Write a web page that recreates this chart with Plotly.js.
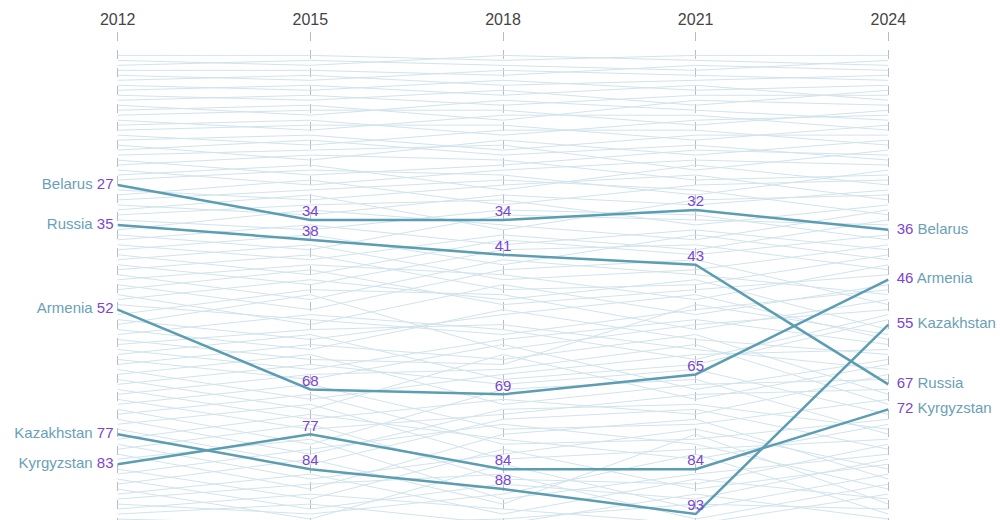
<!DOCTYPE html>
<html>
<head>
<meta charset="utf-8">
<script src="https://cdn.plot.ly/plotly-3.0.1.min.js"></script>
<style>html,body{margin:0;padding:0;background:#fff;}#chart{width:1000px;height:520px;}</style>
</head>
<body>
<div id="chart"></div>
<script>
// ---- Data ----
const years = [2012, 2015, 2018, 2021, 2024];
const yearLabels = ["2012", "2015", "2018", "2021", "2024"];

const countries = ["Belarus", "Russia", "Armenia", "Kazakhstan", "Kyrgyzstan"];
const rankBelarus    = [27, 34, 34, 32, 36];
const rankRussia     = [35, 38, 41, 43, 67];
const rankArmenia    = [52, 68, 69, 65, 46];
const rankKazakhstan = [77, 84, 88, 93, 55];
const rankKyrgyzstan = [83, 77, 84, 84, 72];

// other countries (background lines), ranks per year [2012, 2015, 2018, 2021, 2024] (estimated)
const backgroundRanks = [
  [1,1,2,1,1],[2,3,1,2,3],[3,2,3,4,2],[4,4,5,3,4],[5,6,4,5,6],
  [6,5,7,6,5],[7,8,6,8,7],[8,7,9,7,10],[9,10,8,11,8],[10,9,11,9,9],
  [11,13,10,12,14],[12,11,14,10,11],[13,12,12,15,12],[14,16,13,13,16],[15,14,17,14,13],
  [16,15,15,18,15],[17,19,16,16,19],[18,17,20,17,17],[19,22,18,21,18],[20,18,21,19,22],
  [21,20,19,24,20],[22,25,23,20,21],[23,21,22,26,25],[24,27,24,22,23],[25,23,28,23,27],
  [26,24,25,29,24],[28,30,27,25,30],[29,26,31,27,26],[30,28,26,28,33],[31,33,29,31,28],
  [32,29,36,30,29],[33,31,30,35,31],[34,36,32,33,38],[36,32,35,38,32],[37,40,33,34,35],
  [38,35,39,36,40],[39,42,37,40,34],[40,37,43,37,42],[41,45,38,41,37],[42,39,46,44,39],
  [43,47,40,39,44],[44,41,48,47,41],[45,50,42,45,49],[46,43,45,50,43],[47,52,44,42,51],
  [48,44,51,48,45],[49,55,47,53,47],[50,46,50,46,56],[51,54,57,52,48],[53,48,49,56,50],
  [54,58,53,49,58],[55,49,60,55,52],[56,60,52,58,61],[57,53,56,62,53],[58,62,63,51,57],
  [59,56,55,60,64],[60,64,58,54,59],[61,57,66,63,54],[62,66,59,68,62],[63,59,62,57,69],
  [64,70,65,61,60],[65,61,71,67,66],[66,72,61,70,63],[67,63,67,64,73],[68,74,70,73,65],
  [69,65,64,59,71],[70,76,73,69,68],[71,67,76,75,70],[72,79,68,66,77],[73,69,79,78,74],
  [74,81,72,71,76],[75,71,82,80,78],[76,83,74,72,80],[78,73,78,82,75],[79,86,81,76,84],
  [80,75,86,87,79],[81,88,77,74,86],[82,78,90,85,81],[84,90,80,88,83],[85,80,75,79,88],
  [86,92,87,90,82],[87,82,91,77,91],[88,94,83,92,85],[89,85,93,86,90],[90,87,85,94,87],
  [91,93,89,81,93],[92,89,92,95,89],[93,91,95,89,94],[94,95,94,91,92],[95,96,96,96,95]
];

const highlightRanks = [rankBelarus, rankRussia, rankArmenia, rankKazakhstan, rankKyrgyzstan];

// ---- Styles ----
const lineColor = "#5b9db3";
const bgColor = "#d1e4ec";
const nameColor = "#6a9fb7";
const numColor = "#7b45cf";
const fontFam = "'Liberation Sans', Arial, Helvetica, sans-serif";

const traces = [];
backgroundRanks.forEach(r => {
  traces.push({x: years, y: r, type: "scatter", mode: "lines",
    line: {color: bgColor, width: 1}, hoverinfo: "skip", showlegend: false});
});
highlightRanks.forEach((r, i) => {
  traces.push({x: years, y: r, type: "scatter", mode: "lines", name: countries[i],
    line: {color: lineColor, width: 2.5}, showlegend: false});
});

// left labels
traces.push({
  x: highlightRanks.map(() => years[0]),
  y: highlightRanks.map(r => r[0]),
  text: countries.map((c, i) => c + " <span style='color:" + numColor + "'>" + highlightRanks[i][0] + "</span> "),
  type: "scatter", mode: "text", textposition: "middle left", cliponaxis: false,
  textfont: {family: fontFam, size: 15, color: nameColor}, hoverinfo: "skip", showlegend: false
});
// right labels
traces.push({
  x: highlightRanks.map(() => years[years.length - 1]),
  y: highlightRanks.map(r => r[r.length - 1]),
  text: countries.map((c, i) => "  <span style='color:" + numColor + "'>" + highlightRanks[i][highlightRanks[i].length - 1] + "</span> " + c),
  type: "scatter", mode: "text", textposition: "middle right", cliponaxis: false,
  textfont: {family: fontFam, size: 15, color: nameColor}, hoverinfo: "skip", showlegend: false
});
// middle labels
const mx = [], my = [], mt = [];
highlightRanks.forEach(r => {
  for (let j = 1; j < years.length - 1; j++) { mx.push(years[j]); my.push(r[j]); mt.push(String(r[j])); }
});
traces.push({
  x: mx, y: my, text: mt, type: "scatter", mode: "text", textposition: "top center", cliponaxis: false,
  textfont: {family: fontFam, size: 15, color: numColor}, hoverinfo: "skip", showlegend: false
});

const layout = {
  width: 1000, height: 520,
  margin: {l: 92, r: 86, t: 32, b: 0, pad: 0},
  paper_bgcolor: "#fff", plot_bgcolor: "#fff",
  showlegend: false,
  xaxis: {
    range: [2011.6, 2024.4], side: "top", tickvals: years, ticktext: yearLabels,
    showgrid: true, gridcolor: "#b8bcc2", griddash: "dash", gridwidth: 1,
    zeroline: false, showline: false, ticks: "", ticklabelstandoff: 3,
    tickfont: {family: fontFam, size: 16, color: "#444"}
  },
  yaxis: {
    range: [94.2, -3.69], showgrid: false, zeroline: false, showticklabels: false, showline: false, ticks: ""
  },
  font: {family: fontFam}
};

Plotly.newPlot("chart", traces, layout, {displayModeBar: false, staticPlot: true});
</script>
</body>
</html>
